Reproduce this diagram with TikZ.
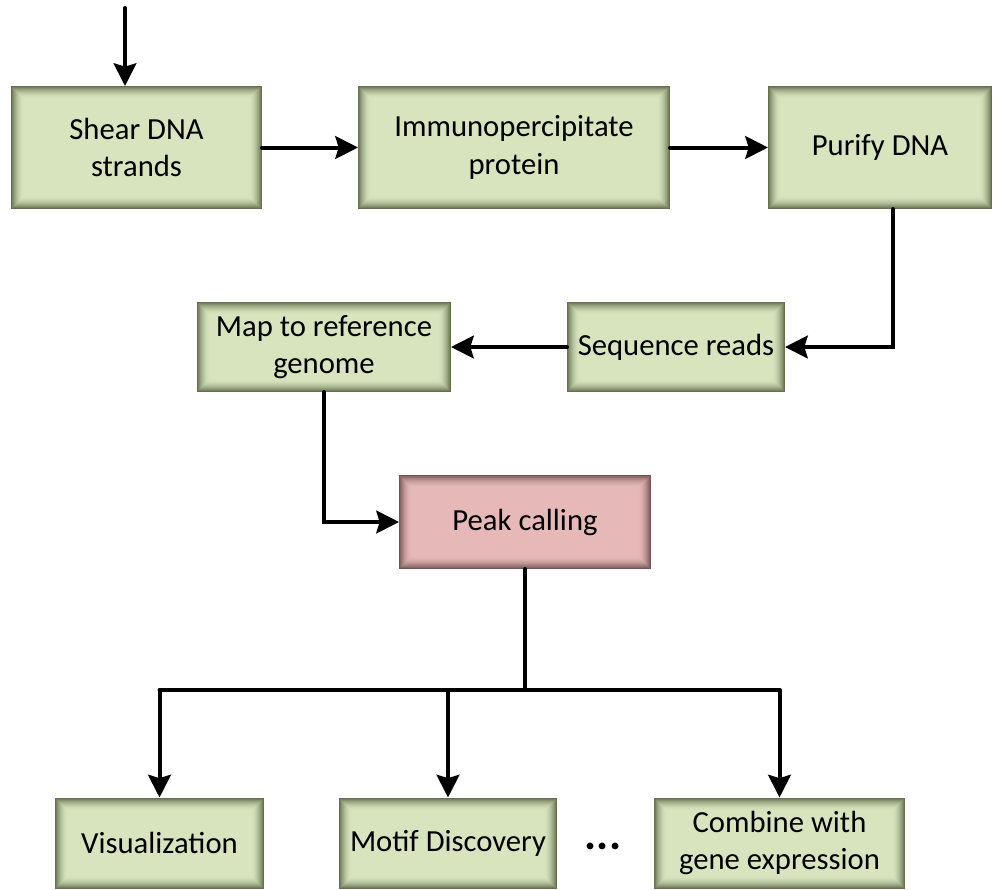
\documentclass[tikz,border=0pt]{standalone}
\usepackage{fontspec}
\setmainfont{Carlito}
\usetikzlibrary{arrows.meta}
\definecolor{boxgreen}{HTML}{D7E4BD}
\definecolor{edgegreen}{HTML}{66704E}
\definecolor{boxpink}{HTML}{E6B9B8}
\definecolor{edgepink}{HTML}{765655}
\tikzset{
  stepbox/.style 2 args={draw=none, fill=#1, inner sep=0pt, outer sep=0pt,
    align=center, text=black, font=\fontsize{23}{28}\selectfont,
    path picture={
      \foreach \i in {0,...,12}{
        \pgfmathsetmacro\p{100*(1-\i/13)^2}
        \draw[line width=0.9pt, draw=#2!\p!#1]
          ([shift={(\i*0.75pt+0.45pt,-\i*0.75pt-0.45pt)}]path picture bounding box.north west)
          rectangle
          ([shift={(-\i*0.75pt-0.45pt,\i*0.75pt+0.45pt)}]path picture bounding box.south east);
      }
    }},
  greenbox/.style={stepbox={boxgreen}{edgegreen}},
  pinkbox/.style={stepbox={boxpink}{edgepink}},
  conn/.style={line width=3pt, line cap=round},
  arr/.style={conn, -{Stealth[length=17pt, width=17pt, inset=2.5pt]}},
}
\begin{document}
\begin{tikzpicture}[x=0.75pt, y=-0.75pt]
  \useasboundingbox (0,0) rectangle (1008,890);

  % first row
  \node[greenbox, minimum width=188.25pt, minimum height=92.25pt] (shear) at (136.5,147.5) {Shear DNA\\strands};
  \node[greenbox, minimum width=234pt, minimum height=92.25pt] (immuno) at (514,147.5) {Immunopercipitate\\protein};
  \node[greenbox, minimum width=168pt, minimum height=92.25pt] (purify) at (880,147.5) {Purify DNA};

  % second row
  \node[greenbox, minimum width=190.5pt, minimum height=67.5pt] (map) at (324,347) {Map to reference\\genome};
  \node[greenbox, minimum width=163.5pt, minimum height=67.5pt] (seq) at (676,347) {Sequence reads};

  % peak calling
  \node[pinkbox, minimum width=189pt, minimum height=70.5pt] (peak) at (525,522) {Peak calling};

  % downstream analyses
  \node[greenbox, minimum width=156.75pt, minimum height=68.25pt] (vis) at (159.5,843) {Visualization};
  \node[greenbox, minimum width=163.5pt, minimum height=68.25pt] (motif) at (448,843) {Motif Discovery};
  \node[greenbox, minimum width=188.25pt, minimum height=68.25pt] (comb) at (779.5,843) {Combine with\\gene expression};
  \node[font=\bfseries\fontsize{34}{34}\selectfont] (dots) at (603,846) {...};

  % connectors
  \coordinate (start) at (125,8);
  \draw[arr] (start) -- (start |- shear.north);
  \draw[arr] (shear.east) -- (immuno.west);
  \draw[arr] (immuno.east) -- (purify.west);
  \draw[arr] ([xshift=9.75pt]purify.south) |- (seq.east);
  \draw[arr] (seq.west) -- (map.west -| map.east);
  \draw[arr] (map.south) |- (peak.west);

  \coordinate (split) at (525,690);
  \draw[conn] (peak.south) -- (split);
  \draw[conn] (vis.north |- split) -- (comb.north |- split);
  \draw[arr] (vis.north |- split) -- (vis.north);
  \draw[arr] (motif.north |- split) -- (motif.north);
  \draw[arr] (comb.north |- split) -- (comb.north);
\end{tikzpicture}
\end{document}
